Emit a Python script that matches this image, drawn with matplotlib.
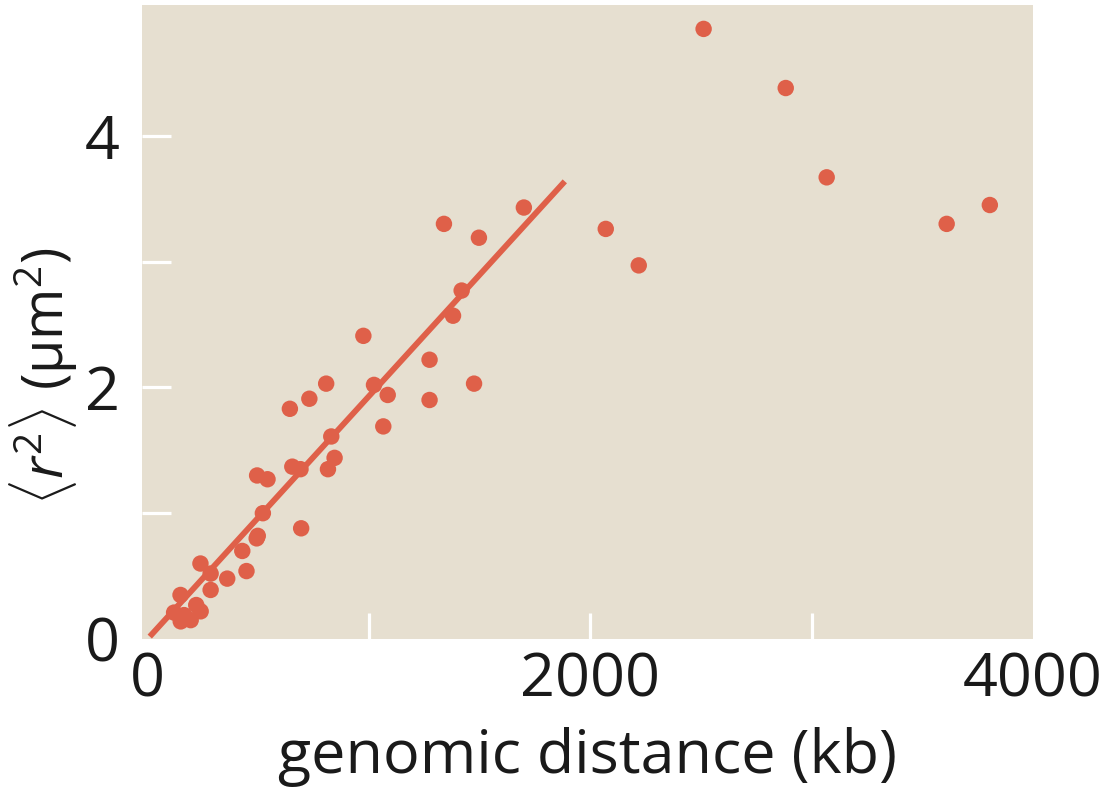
import matplotlib
matplotlib.use("Agg")
import matplotlib.pyplot as plt
import numpy as np

# Mean squared spatial distance vs. genomic separation
genomic_kb = [
    120, 150, 195, 220, 240, 165, 149, 239, 285, 285, 360, 428, 447, 493,
    498, 495, 542, 521, 694, 654, 691, 815, 845, 830, 643, 731, 807,
    975, 1023, 1085, 1065, 1274, 1274, 1475, 1380, 1419,
    1339, 1497, 1700,
    2070, 2219, 2512, 2883, 3068, 3610, 3805,
]
r2_um2 = [
    0.21, 0.14, 0.15, 0.27, 0.22, 0.19, 0.35, 0.60, 0.52, 0.39, 0.48, 0.70, 0.54, 0.80,
    0.82, 1.30, 1.27, 1.00, 0.88, 1.37, 1.35, 1.35, 1.44, 1.61, 1.83, 1.91, 2.03,
    2.41, 2.02, 1.94, 1.69, 2.22, 1.90, 2.03, 2.57, 2.77,
    3.30, 3.19, 3.43,
    3.26, 2.97, 4.85, 4.38, 3.67, 3.30, 3.45,
]

# Linear fit over the short-range regime
fit_range_kb = [10, 1885]
fit_slope = 0.00193  # um^2 per kb

x_ticklabels = ["0", "2000", "4000"]
y_ticklabels = ["0", "2", "4"]

DOT = "#DF6049"
BG = "#E6DFD0"
INK = "#1a1a1a"
FS = 44

plt.rcParams["font.family"] = ["Open Sans", "DejaVu Sans"]
plt.rcParams["mathtext.fontset"] = "custom"
plt.rcParams["mathtext.rm"] = "Open Sans"
plt.rcParams["mathtext.it"] = "Open Sans:italic"

fig = plt.figure(figsize=(11.10, 7.89), dpi=100)
ax = fig.add_axes([142 / 1110, 1 - 639 / 789, (1033 - 142) / 1110, (639 - 5) / 789])
ax.set_facecolor(BG)
for s in ax.spines.values():
    s.set_visible(False)

ax.set_xlim(-25, 4000)
ax.set_ylim(0, 5.04)

fx = np.array(fit_range_kb, dtype=float)
ax.plot(fx, fit_slope * fx, color=DOT, lw=4.2, solid_capstyle="butt", zorder=2)
ax.scatter(genomic_kb, r2_um2, s=140, color=DOT, edgecolors="none", zorder=3)

# labelled positions
ax.set_xticks([0, 2000, 4000])
ax.set_xticklabels(x_ticklabels)
ax.set_yticks([0, 2, 4])
ax.set_yticklabels(y_ticklabels)
ax.tick_params(axis="both", which="major", length=0, labelsize=FS, colors=INK)
ax.tick_params(axis="x", which="major", pad=8)
ax.tick_params(axis="y", which="major", pad=16)

# white inward tick marks (kept even where they coincide with labelled ticks)
ax.xaxis.remove_overlapping_locs = False
ax.yaxis.remove_overlapping_locs = False
ax.set_xticks([1000, 2000, 3000], minor=True)
ax.set_yticks([1, 2, 3, 4], minor=True)
ax.tick_params(axis="x", which="minor", direction="in", length=19, width=2.3, color="white")
ax.tick_params(axis="y", which="minor", direction="in", length=21, width=2.3, color="white")

ax.set_xlabel("genomic distance (kb)", fontsize=FS, color=INK, labelpad=12)
fig.text(44 / 1110, 1 - 376 / 789, r"$\langle\mathit{r}^{2}\rangle$ (μm$^{2}$)",
         rotation=90, fontsize=40, color=INK, ha="center", va="center")

fig.savefig("out.png", dpi=100, facecolor="white")
